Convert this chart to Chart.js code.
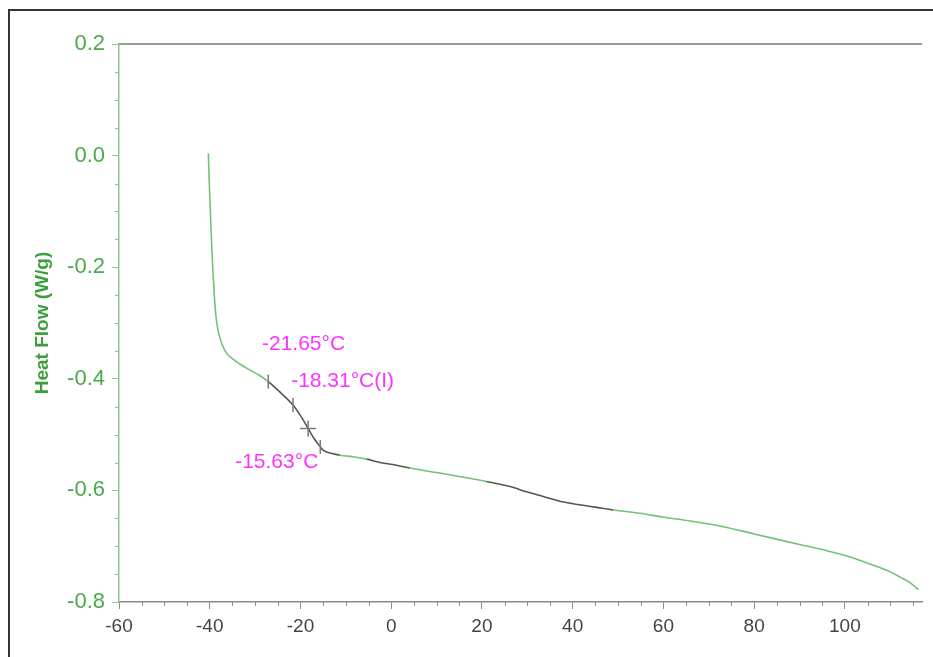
<!DOCTYPE html>
<html>
<head>
<meta charset="utf-8">
<script src="https://cdn.jsdelivr.net/npm/chart.js@4.4.0/dist/chart.umd.min.js"></script>
<style>
  html, body { margin: 0; padding: 0; background: #fff; }
  #wrap { position: relative; width: 933px; height: 657px; }
  #frame { position: absolute; left: 8px; top: 9px; right: -4px; bottom: -4px;
           border-left: 2px solid #333; border-top: 2px solid #333; pointer-events: none; }
</style>
</head>
<body>
<div id="wrap">
  <canvas id="dsc" width="933" height="657"></canvas>
  <div id="frame"></div>
</div>
<script>
(function () {
    "use strict";

    // DSC曲線 (温度 °C / 熱流 W/g)
    var tempC = [-40.3, -40.1, -39.9, -39.7, -39.4, -39.0, -38.6, -38.1, -37.2, -36.3,
                 -35.0, -33.3, -31.0, -29.0, -27.1, -24.5, -21.65, -20.0, -18.31, -17.0,
                 -15.63, -15.0, -13.0, -11.3, -8.0, -5.4, -2.5, 0, 4.1, 10,
                 15, 21, 26.2, 30, 33.5, 37, 40.1, 45, 49, 54.8,
                 60, 66, 73.2, 80, 84.2, 90, 96, 101, 106.2, 110,
                 112.1, 114.5, 116.2];
    var heatFlow = [0.004, -0.05, -0.092, -0.135, -0.19, -0.25, -0.29, -0.316, -0.340, -0.354,
                    -0.364, -0.374, -0.385, -0.394, -0.405, -0.424, -0.447, -0.466, -0.489, -0.507,
                    -0.522, -0.528, -0.534, -0.537, -0.540, -0.544, -0.550, -0.553, -0.560, -0.568,
                    -0.575, -0.584, -0.593, -0.603, -0.611, -0.619, -0.624, -0.630, -0.635, -0.641,
                    -0.648, -0.655, -0.665, -0.678, -0.686, -0.697, -0.708, -0.719, -0.734, -0.746,
                    -0.755, -0.766, -0.778];

    // ガラス転移解析マーカー (開始限界 / onset / 変曲点 / end)
    var markerTemp = [-27.1, -21.65, -18.31, -15.63];
    var markerFlow = [-0.405, -0.447, -0.489, -0.522];
    var markerText = [null, "-21.65°C", "-18.31°C(I)", "-15.63°C"];

    // 解析で黒く上書きされた区間 (°C)
    var darkRanges = [[-27.1, -11.3], [-6, 4.1], [21, 49]];

    var xTicks = [-60, -40, -20, 0, 20, 40, 60, 80, 100];
    var yTicks = [-0.8, -0.6, -0.4, -0.2, 0.0, 0.2];

    var GREEN = "#4aaa4a", GREEN_AX = "#86cc86", CURVE = "#74c274", GREY_AX = "#8a8a8a";
    var FONT = "'Liberation Sans', Arial, sans-serif";

    function isDark(a, b) {
        return darkRanges.some(function (r) { return a >= r[0] - 1e-6 && b <= r[1] + 1e-6; });
    }

    var curve = tempC.map(function (t, i) { return { x: t, y: heatFlow[i] }; });
    var marks = markerTemp.map(function (t, i) { return { x: t, y: markerFlow[i] }; });

    // 副目盛り・上枠・注記ラベル
    var extras = {
        id: "extras",
        afterDraw: function (c) {
            var ctx = c.ctx, a = c.chartArea, xs = c.scales.x, ys = c.scales.y;
            ctx.save();
            ctx.strokeStyle = "#9a9a9a";
            ctx.lineWidth = 2;
            ctx.beginPath(); ctx.moveTo(a.left, a.top); ctx.lineTo(a.right, a.top); ctx.stroke();

            ctx.lineWidth = 1;
            ctx.strokeStyle = GREY_AX;
            for (var v = -60; v <= 117; v += 5) {
                if (v % 20 === 0) continue;
                var px = Math.round(xs.getPixelForValue(v)) + 0.5;
                ctx.beginPath(); ctx.moveTo(px, a.bottom); ctx.lineTo(px, a.bottom + 4); ctx.stroke();
            }
            ctx.strokeStyle = GREEN_AX;
            for (var k = 0; k <= 20; k++) {
                if (k % 4 === 0) continue;
                var py = Math.round(ys.getPixelForValue(-0.8 + k * 0.05)) + 0.5;
                ctx.beginPath(); ctx.moveTo(a.left - 4, py); ctx.lineTo(a.left, py); ctx.stroke();
            }

            ctx.fillStyle = "#ff33ff";
            ctx.font = "21px " + FONT;
            ctx.textBaseline = "middle";
            var off = [null, [-31, -61, "left"], [-17, -47, "left"], [-2, 15, "right"]];
            markerText.forEach(function (txt, i) {
                if (!txt) return;
                var mx = xs.getPixelForValue(markerTemp[i]);
                var my = ys.getPixelForValue(markerFlow[i]);
                ctx.textAlign = off[i][2];
                ctx.fillText(txt, mx + off[i][0], my + off[i][1]);
            });
            ctx.restore();
        }
    };

    new Chart(document.getElementById("dsc").getContext("2d"), {
        type: "scatter",
        data: {
            datasets: [
                {
                    data: curve,
                    showLine: true,
                    borderColor: CURVE,
                    borderWidth: 1.6,
                    pointRadius: 0,
                    cubicInterpolationMode: "monotone",
                    segment: {
                        borderColor: function (s) {
                            return isDark(s.p0.parsed.x, s.p1.parsed.x) ? "#4d5a4d" : undefined;
                        }
                    },
                    order: 2
                },
                {
                    data: marks,
                    showLine: false,
                    pointStyle: ["line", "line", "cross", "line"],
                    rotation: [90, 90, 0, 90],
                    pointRadius: [7, 7, 8, 7],
                    borderColor: "#7a7a7a",
                    borderWidth: 1.5,
                    order: 1
                }
            ]
        },
        options: {
            responsive: false,
            animation: false,
            events: [],
            layout: { padding: { top: 44, right: 11, left: 0, bottom: 0 } },
            plugins: { legend: { display: false }, tooltip: { enabled: false } },
            scales: {
                x: {
                    type: "linear",
                    min: -60, max: 117,
                    afterFit: function (s) { s.height = 55; },
                    afterBuildTicks: function (s) { s.ticks = xTicks.map(function (v) { return { value: v }; }); },
                    grid: { drawOnChartArea: false, tickLength: 7, tickColor: GREY_AX },
                    border: { color: GREY_AX, width: 1.5 },
                    ticks: { color: "#444", font: { family: FONT, size: 19 }, padding: 6, maxRotation: 0 }
                },
                y: {
                    type: "linear",
                    min: -0.8, max: 0.2,
                    afterFit: function (s) { s.width = 119; },
                    afterBuildTicks: function (s) { s.ticks = yTicks.map(function (v) { return { value: v }; }); },
                    grid: { drawOnChartArea: false, tickLength: 7, tickColor: GREEN_AX },
                    border: { color: GREEN_AX, width: 1.5 },
                    ticks: {
                        color: GREEN, font: { family: FONT, size: 22 }, padding: 7,
                        callback: function (v) { return Math.abs(v) < 1e-9 ? "0.0" : v.toFixed(1); }
                    },
                    title: {
                        display: true, text: "Heat Flow (W/g)", color: "#3a9e3a",
                        font: { family: FONT, size: 19, weight: "bold" },
                        padding: { top: 31, bottom: 0 }
                    }
                }
            }
        },
        plugins: [extras]
    });
})();
</script>
</body>
</html>
